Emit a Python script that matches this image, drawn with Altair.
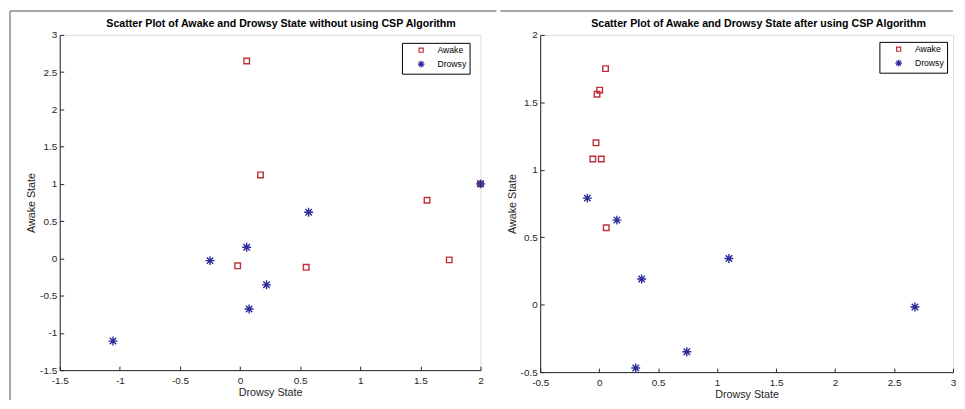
import altair as alt
import pandas as pd

# ---------- data ----------
states = ["Awake", "Drowsy"]

L_awake_x = [0.055, 0.17, 1.555, -0.02, 0.55, 1.74, 2.0]
L_awake_y = [2.65, 1.12, 0.78, -0.10, -0.12, -0.02, 1.0]
L_drowsy_x = [0.57, 0.055, -0.25, 0.22, 0.075, -1.057, 2.0]
L_drowsy_y = [0.62, 0.15, -0.03, -0.355, -0.68, -1.11, 1.0]

R_awake_x = [0.054, 0.004, -0.018, -0.027, -0.054, 0.018, 0.06]
R_awake_y = [1.75, 1.59, 1.56, 1.20, 1.08, 1.08, 0.57]
R_drowsy_x = [-0.10, 0.15, 0.36, 1.10, 2.677, 0.743, 0.31]
R_drowsy_y = [0.79, 0.627, 0.19, 0.342, -0.017, -0.349, -0.469]

L_xticks = [-1.5, -1, -0.5, 0, 0.5, 1, 1.5, 2]
L_yticks = [-1.5, -1, -0.5, 0, 0.5, 1, 1.5, 2, 2.5, 3]
R_xticks = [-0.5, 0, 0.5, 1, 1.5, 2, 2.5, 3]
R_yticks = [-0.5, 0, 0.5, 1, 1.5, 2]

L_title = "Scatter Plot of Awake and Drowsy State without using CSP Algorithm"
R_title = "Scatter Plot of Awake and Drowsy State after using CSP Algorithm"

# ---------- styling ----------
FONT = "Liberation Sans"
AX = "#262626"
RED = "#c0303c"
BLUE = "#2b2b9c"
SQUARE = "M-0.62,-0.62L0.62,-0.62L0.62,0.62L-0.62,0.62Z"
STAR = "M-1,0L1,0M0,-1L0,1M-0.72,-0.72L0.72,0.72M-0.72,0.72L0.72,-0.72"
LBL = "replace(datum.label, '\u2212', '-')"


def legend(lx, ly):
    return alt.Legend(title=None, orient="none", legendX=lx, legendY=ly,
                      strokeColor="#000", fillColor="#fff", padding=3,
                      labelFont=FONT, labelFontSize=8.7, labelColor="#000",
                      symbolOffset=12, labelOffset=12, rowPadding=2,
                      symbolSize=45, symbolStrokeWidth=1.2)


def axis(title, values, lpad, tpad):
    return alt.Axis(
        title=title, values=values, grid=False, format="~g",
        ticks=True, tickSize={"expr": "-4"}, tickColor=AX, tickWidth=1,
        labelOverlap=False, labelFlush=False, domainColor=AX, domainWidth=1,
        labelFont=FONT, labelFontSize=10, labelColor=AX, labelPadding=lpad,
        labelExpr=LBL,
        titleFont=FONT, titleFontSize=10.8, titleFontWeight="normal", titleColor=AX,
        titlePadding=tpad)


def panel(ax_, ay_, dx_, dy_, xdom, ydom, xt, yt, w, h, title, tdx,
          lx, ly, rl, rr):
    pts = pd.DataFrame({
        "x": ax_ + dx_,
        "y": ay_ + dy_,
        "state": [states[0]] * len(ax_) + [states[1]] * len(dx_),
    })
    xs = alt.Scale(domain=xdom, nice=False, zero=False)
    ys = alt.Scale(domain=ydom, nice=False, zero=False)

    points = alt.Chart(pts).mark_point(filled=False, strokeWidth=1.4, size=81, opacity=1).encode(
        x=alt.X("x:Q", scale=xs, axis=axis("Drowsy State", xt, 9, 2)),
        y=alt.Y("y:Q", scale=ys, axis=axis("Awake State", yt, 7, 3)),
        color=alt.Color("state:N", scale=alt.Scale(domain=states, range=[RED, BLUE]),
                        legend=legend(lx, ly)),
        shape=alt.Shape("state:N", scale=alt.Scale(domain=states, range=[SQUARE, STAR]),
                        legend=legend(lx, ly)),
    )

    one = pd.DataFrame({"a": [0]})
    top = alt.Chart(one).mark_rule(color="#8a8a8a", strokeWidth=1.5).encode(
        x=alt.value(rl), x2=alt.value(rr), y=alt.value(-24))
    layers = [points, top]
    if rl < -45:
        left = alt.Chart(one).mark_rule(color="#8a8a8a", strokeWidth=1.5).encode(
            x=alt.value(rl), y=alt.value(-24), y2=alt.value(h + 30))
        layers.append(left)

    return alt.layer(*layers).properties(
        width=w, height=h,
        title=alt.TitleParams(title, font=FONT, fontSize=10.7, fontWeight="bold", color="#000",
                              anchor="middle", frame="group", offset=0, dx=tdx, dy=20),
    )


left = panel(L_awake_x, L_awake_y, L_drowsy_x, L_drowsy_y, [-1.5, 2], [-1.5, 3],
             L_xticks, L_yticks, 423, 337, L_title, 11, 344, 8, -50, 439)
right = panel(R_awake_x, R_awake_y, R_drowsy_x, R_drowsy_y, [-0.5, 3], [-0.5, 2],
              R_xticks, R_yticks, 415, 339, R_title, 12, 341, 7, -40, 415)

chart = alt.hconcat(left, right, spacing=0).resolve_scale(
    color="independent", shape="independent"
).properties(
    padding={"left": 0, "top": 0, "right": 0, "bottom": 0}
).configure_view(stroke=None).configure(background="#ffffff")

chart.save("out.html", embed_options={"renderer": "svg", "actions": False})
